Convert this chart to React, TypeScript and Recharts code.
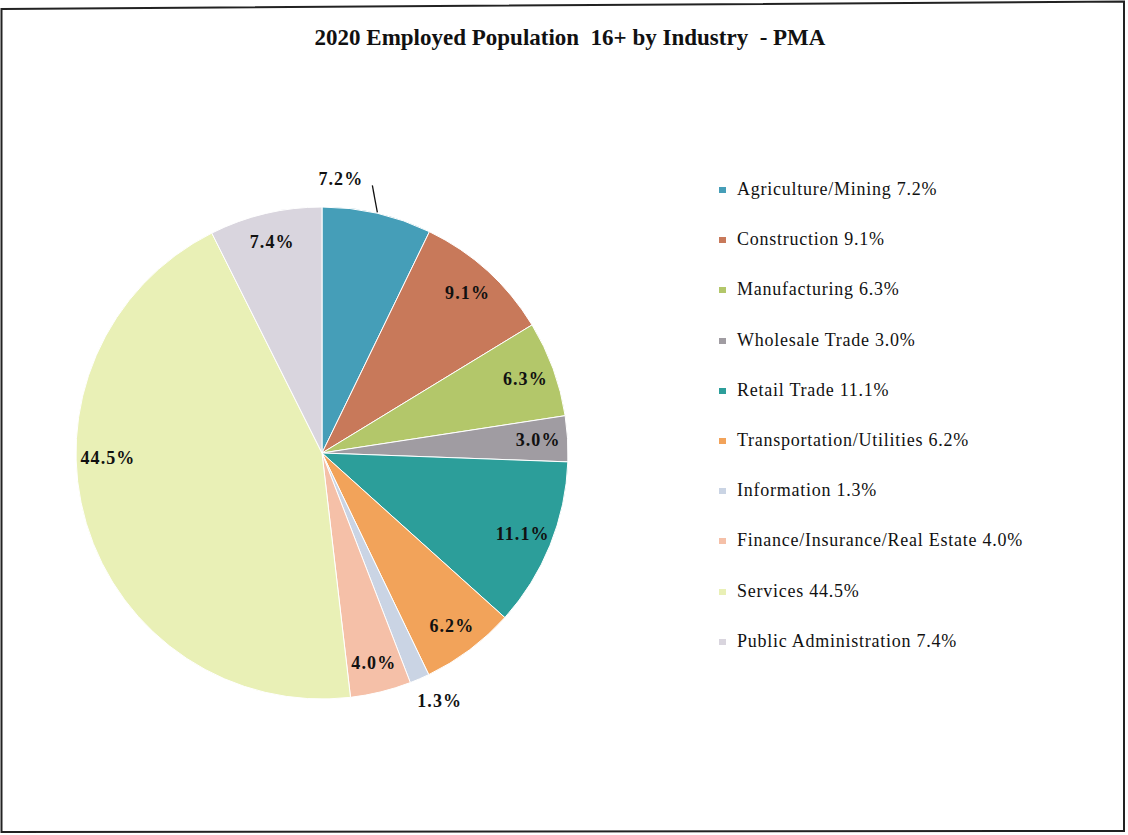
import React from "react";
import { PieChart, Pie, Cell, Legend } from "recharts";

const industries = [
  "Agriculture/Mining",
  "Construction",
  "Manufacturing",
  "Wholesale Trade",
  "Retail Trade",
  "Transportation/Utilities",
  "Information",
  "Finance/Insurance/Real Estate",
  "Services",
  "Public Administration",
];
const shares = [7.2, 9.1, 6.3, 3.0, 11.1, 6.2, 1.3, 4.0, 44.5, 7.4];
const colors = [
  "#459EB8",
  "#C8795A",
  "#B3C76A",
  "#A09CA2",
  "#2C9E9A",
  "#F2A35A",
  "#CAD4E4",
  "#F5C0A8",
  "#E9F0B6",
  "#D9D5DE",
];
const TITLE = "2020 Employed Population  16+ by Industry  - PMA";

const data = industries.map((name, i) => ({ name, value: shares[i] }));

const FONT = '"Liberation Serif", "Times New Roman", serif';
const RAD = Math.PI / 180;
const CX = 322;
const CY = 453;
const R = 246;

const renderLabel = (props: any) => {
  const { cx, cy, midAngle, outerRadius, index, value } = props;
  const text = `${Number(value).toFixed(1)}%`;
  const cos = Math.cos(-midAngle * RAD);
  const sin = Math.sin(-midAngle * RAD);
  const common = {
    fill: "#111",
    fontFamily: FONT,
    fontWeight: 700,
    fontSize: 18,
    letterSpacing: 1.1,
    dominantBaseline: "central" as const,
  };
  if (index === 0) {
    const px = cx + (outerRadius + 1) * cos;
    const py = cy + (outerRadius + 1) * sin;
    const ex = px - 5;
    const ey = py - 27;
    return (
      <g key={`lbl-${index}`}>
        <line x1={px} y1={py} x2={ex} y2={ey} stroke="#111" strokeWidth={1.3} />
        <text x={ex - 9} y={ey - 6} textAnchor="end" {...common}>
          {text}
        </text>
      </g>
    );
  }
  if (value < 2) {
    const r = outerRadius + 28;
    return (
      <text key={`lbl-${index}`} x={cx + r * cos + 9} y={cy + r * sin - 4} textAnchor="middle" {...common}>
        {text}
      </text>
    );
  }
  if (value > 40) {
    const r = outerRadius * 0.87;
    const x = cx + (cos < 0 ? -r : r);
    return (
      <text key={`lbl-${index}`} x={x} y={cy + 5} textAnchor="middle" {...common}>
        {text}
      </text>
    );
  }
  const r = outerRadius * 0.88;
  return (
    <text key={`lbl-${index}`} x={cx + r * cos} y={cy + r * sin} textAnchor="middle" {...common}>
      {text}
    </text>
  );
};

const renderLegend = () => (
  <div style={{ fontFamily: FONT, fontSize: 18, letterSpacing: 0.75, color: "#111" }}>
    {data.map((d, i) => (
      <div
        key={d.name}
        style={{ height: 50.2, display: "flex", alignItems: "flex-start", whiteSpace: "nowrap" }}
      >
        <span
          style={{
            display: "inline-block",
            width: 7,
            height: 6,
            background: colors[i],
            marginTop: 10,
            marginRight: 11,
            marginLeft: 3,
          }}
        />
        <span style={{ lineHeight: "24px" }}>{`${d.name} ${d.value.toFixed(1)}%`}</span>
      </div>
    ))}
  </div>
);

export default function App() {
  return (
    <div style={{ position: "absolute", left: 0, top: 0, width: 1128, height: 835, background: "#fff" }}>
      <svg
        width={1128}
        height={835}
        style={{ position: "absolute", left: 0, top: 0, pointerEvents: "none" }}
      >
        <polygon points="1.5,9 1124,1.5 1124,831 1.5,832" fill="none" stroke="#222" strokeWidth={2} />
      </svg>
      <div
        style={{
          position: "absolute",
          left: 0,
          top: 25,
          width: 1140,
          textAlign: "center",
          fontFamily: FONT,
          fontWeight: 700,
          fontSize: 23,
          color: "#111",
          whiteSpace: "pre",
        }}
      >
        {TITLE}
      </div>
      <div style={{ position: "absolute", left: 0, top: 0 }}>
        <PieChart width={1128} height={835} margin={{ top: 0, right: 0, bottom: 0, left: 0 }}>
          <Pie
            data={data}
            dataKey="value"
            nameKey="name"
            cx={CX}
            cy={CY}
            outerRadius={R}
            startAngle={90}
            endAngle={-270}
            stroke="#ffffff"
            strokeWidth={1}
            label={renderLabel}
            labelLine={false}
            isAnimationActive={false}
          >
            {data.map((d, i) => (
              <Cell key={d.name} fill={colors[i]} />
            ))}
          </Pie>
          <Legend
            layout="vertical"
            content={renderLegend}
            wrapperStyle={{ left: 716, top: 177, width: 400 }}
          />
        </PieChart>
      </div>
    </div>
  );
}
